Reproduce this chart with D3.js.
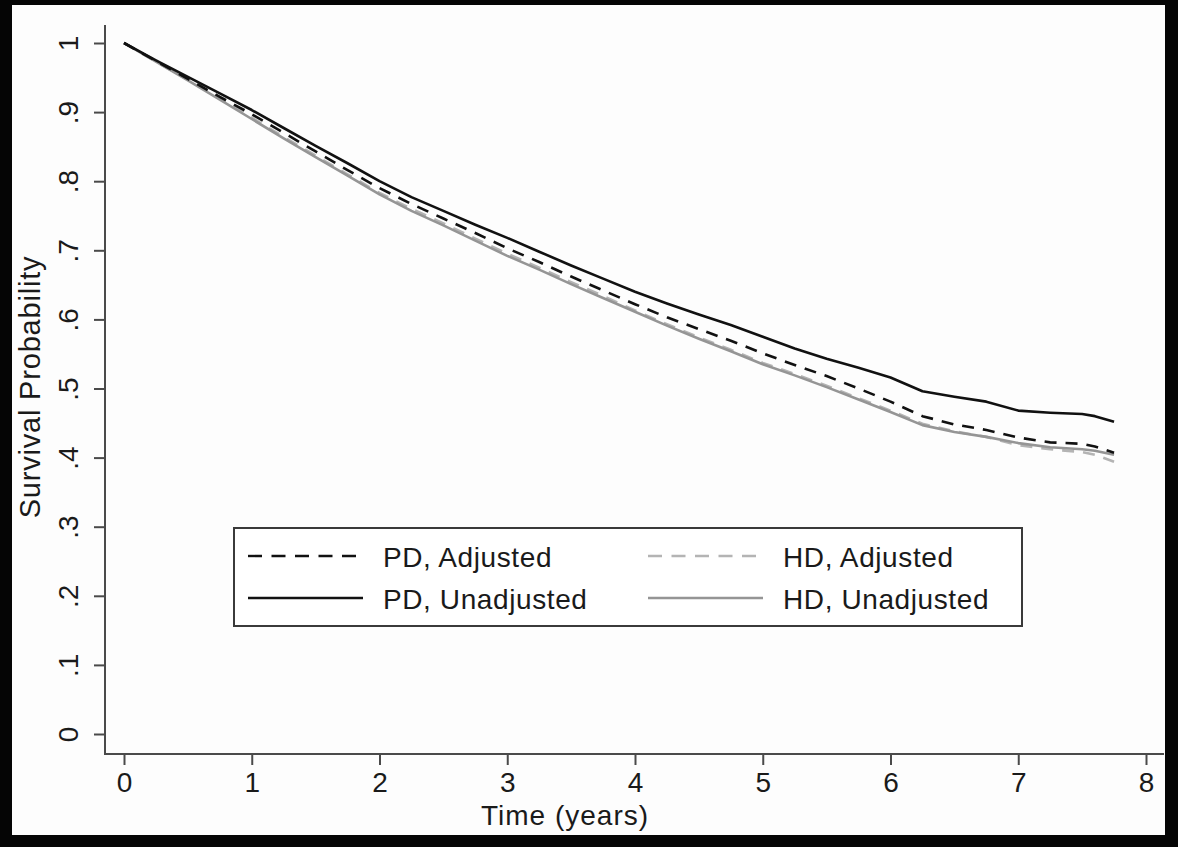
<!DOCTYPE html>
<html>
<head>
<meta charset="utf-8">
<script src="https://cdn.jsdelivr.net/npm/d3@7"></script>
<style>
  html, body { margin: 0; padding: 0; background: #050505; }
  svg { display: block; }
  text { font-family: "Liberation Sans", Arial, Helvetica, sans-serif; fill: #1a1a1a; }
</style>
</head>
<body>
<div id="wrapper"></div>
<script>
// DATA
const TIMES = [0, 0.25, 0.5, 0.75, 1, 1.25, 1.5, 1.75, 2, 2.25, 2.5, 2.75, 3, 3.25, 3.5, 3.75,
  4, 4.25, 4.5, 4.75, 5, 5.25, 5.5, 5.75, 6, 6.25, 6.5, 6.75, 7, 7.25, 7.5, 7.6, 7.75];

const PD_UNADJUSTED = [1.000, 0.975, 0.951, 0.927, 0.903, 0.877, 0.851, 0.826, 0.800, 0.777, 0.757,
  0.737, 0.718, 0.698, 0.678, 0.659, 0.640, 0.623, 0.607, 0.592, 0.575, 0.558, 0.543, 0.530, 0.516,
  0.496, 0.488, 0.481, 0.468, 0.465, 0.463, 0.460, 0.452];

const PD_ADJUSTED = [1.000, 0.974, 0.948, 0.922, 0.897, 0.870, 0.843, 0.816, 0.790, 0.767, 0.746,
  0.725, 0.703, 0.683, 0.662, 0.642, 0.622, 0.603, 0.586, 0.569, 0.551, 0.534, 0.518, 0.500, 0.481,
  0.460, 0.448, 0.440, 0.429, 0.422, 0.420, 0.416, 0.407];

const HD_UNADJUSTED = [1.000, 0.973, 0.946, 0.918, 0.890, 0.862, 0.835, 0.808, 0.781, 0.757, 0.736,
  0.714, 0.692, 0.672, 0.651, 0.631, 0.611, 0.591, 0.572, 0.554, 0.535, 0.519, 0.502, 0.484, 0.466,
  0.447, 0.437, 0.430, 0.421, 0.415, 0.412, 0.410, 0.404];

const HD_ADJUSTED = [1.000, 0.973, 0.947, 0.920, 0.892, 0.864, 0.837, 0.810, 0.783, 0.760, 0.739,
  0.717, 0.695, 0.675, 0.654, 0.634, 0.613, 0.593, 0.574, 0.556, 0.537, 0.521, 0.504, 0.486, 0.468,
  0.449, 0.438, 0.430, 0.418, 0.412, 0.408, 0.404, 0.394];

const X_TICKS = [0, 1, 2, 3, 4, 5, 6, 7, 8];
const Y_TICKS = [0, 0.1, 0.2, 0.3, 0.4, 0.5, 0.6, 0.7, 0.8, 0.9, 1];
const Y_TICK_LABELS = [`0`, `.1`, `.2`, `.3`, `.4`, `.5`, `.6`, `.7`, `.8`, `.9`, `1`];

// series styling, built from the arrays above
const SERIES = [
  { name: `HD, Adjusted`, values: HD_ADJUSTED, color: `#b4b4b4`, dash: `12,9` },
  { name: `HD, Unadjusted`, values: HD_UNADJUSTED, color: `#959595`, dash: null },
  { name: `PD, Adjusted`, values: PD_ADJUSTED, color: `#111`, dash: `12,9` },
  { name: `PD, Unadjusted`, values: PD_UNADJUSTED, color: `#111`, dash: null }
];

// GRAPH
const W = 1178;
const H = 847;
const FONT = 28;

const svg = d3.select(`#wrapper`)
  .append(`svg`)
  .attr(`width`, W)
  .attr(`height`, H);

// page panel (white area inside dark frame)
svg.append(`rect`)
  .attr(`x`, 12).attr(`y`, 5)
  .attr(`width`, 1153).attr(`height`, 830)
  .attr(`fill`, `#fdfdfd`);

// SCALES
const xScale = d3.scaleLinear().domain([0, 8]).range([124, 1146]);
const yScale = d3.scaleLinear().domain([0, 1]).range([734, 43]);

// AXES
const axisColor = `#4a4a4a`;

const xAxis = d3.axisBottom(xScale)
  .tickValues(X_TICKS)
  .tickSize(11)
  .tickFormat(d3.format(`d`));

svg.append(`g`)
  .attr(`transform`, `translate(0, 754)`)
  .call(xAxis)
  .call(g => {
    g.select(`.domain`).remove();
    g.selectAll(`.tick line`).attr(`stroke`, axisColor).attr(`stroke-width`, 2);
    g.selectAll(`.tick text`)
      .attr(`y`, 38).attr(`dy`, null)
      .attr(`font-size`, FONT)
      .attr(`fill`, `#1a1a1a`);
  });

const yAxis = d3.axisLeft(yScale)
  .tickValues(Y_TICKS)
  .tickSize(11)
  .tickFormat((d, i) => Y_TICK_LABELS[i]);

svg.append(`g`)
  .attr(`transform`, `translate(105, 0)`)
  .call(yAxis)
  .call(g => {
    g.select(`.domain`).remove();
    g.selectAll(`.tick line`).attr(`stroke`, axisColor).attr(`stroke-width`, 2);
    g.selectAll(`.tick text`)
      .attr(`x`, 0).attr(`y`, 0).attr(`dy`, null)
      .attr(`text-anchor`, `middle`)
      .attr(`transform`, `translate(-27, 0) rotate(-90)`)
      .attr(`font-size`, FONT)
      .attr(`fill`, `#1a1a1a`);
  });

// axis lines spanning the plot region
svg.append(`line`)
  .attr(`x1`, 105).attr(`x2`, 105).attr(`y1`, 25).attr(`y2`, 755)
  .attr(`stroke`, axisColor).attr(`stroke-width`, 2);

svg.append(`line`)
  .attr(`x1`, 104).attr(`x2`, 1164).attr(`y1`, 754).attr(`y2`, 754)
  .attr(`stroke`, axisColor).attr(`stroke-width`, 2);

// axis titles
svg.append(`text`)
  .attr(`transform`, `translate(40, 387) rotate(-90)`)
  .attr(`text-anchor`, `middle`)
  .attr(`font-size`, 29)
  .attr(`letter-spacing`, 0.8)
  .text(`Survival Probability`);

svg.append(`text`)
  .attr(`x`, 565).attr(`y`, 825)
  .attr(`text-anchor`, `middle`)
  .attr(`font-size`, 28)
  .attr(`letter-spacing`, 1)
  .text(`Time (years)`);

// LINES
const line = d3.line()
  .x((d, i) => xScale(TIMES[i]))
  .y(d => yScale(d));

svg.selectAll(`.curve`)
  .data(SERIES)
  .enter()
  .append(`path`)
  .attr(`class`, `curve`)
  .attr(`d`, d => line(d.values))
  .attr(`fill`, `none`)
  .attr(`stroke`, d => d.color)
  .attr(`stroke-width`, 2.6)
  .attr(`stroke-dasharray`, d => d.dash)
  .attr(`stroke-linejoin`, `round`);

// LEGEND
const legend = svg.append(`g`);

legend.append(`rect`)
  .attr(`x`, 234).attr(`y`, 528)
  .attr(`width`, 788).attr(`height`, 98)
  .attr(`fill`, `#fff`)
  .attr(`stroke`, `#3a3a3a`)
  .attr(`stroke-width`, 2);

const legendOrder = [
  { s: SERIES[2], col: 0, row: 0 },
  { s: SERIES[3], col: 0, row: 1 },
  { s: SERIES[0], col: 1, row: 0 },
  { s: SERIES[1], col: 1, row: 1 }
];

const colX = [248, 648];
const rowY = [556, 598];

const item = legend.selectAll(`.legend-item`)
  .data(legendOrder)
  .enter()
  .append(`g`)
  .attr(`class`, `legend-item`)
  .attr(`transform`, d => `translate(${colX[d.col]}, ${rowY[d.row]})`);

item.append(`line`)
  .attr(`x1`, 0).attr(`x2`, 115)
  .attr(`stroke`, d => d.s.color)
  .attr(`stroke-width`, 2.4)
  .attr(`stroke-dasharray`, d => d.s.dash ? `14,9.5` : null);

item.append(`text`)
  .attr(`x`, 135).attr(`y`, 11)
  .attr(`font-size`, FONT)
  .attr(`letter-spacing`, 0.6)
  .text(d => d.s.name);
</script>
</body>
</html>
